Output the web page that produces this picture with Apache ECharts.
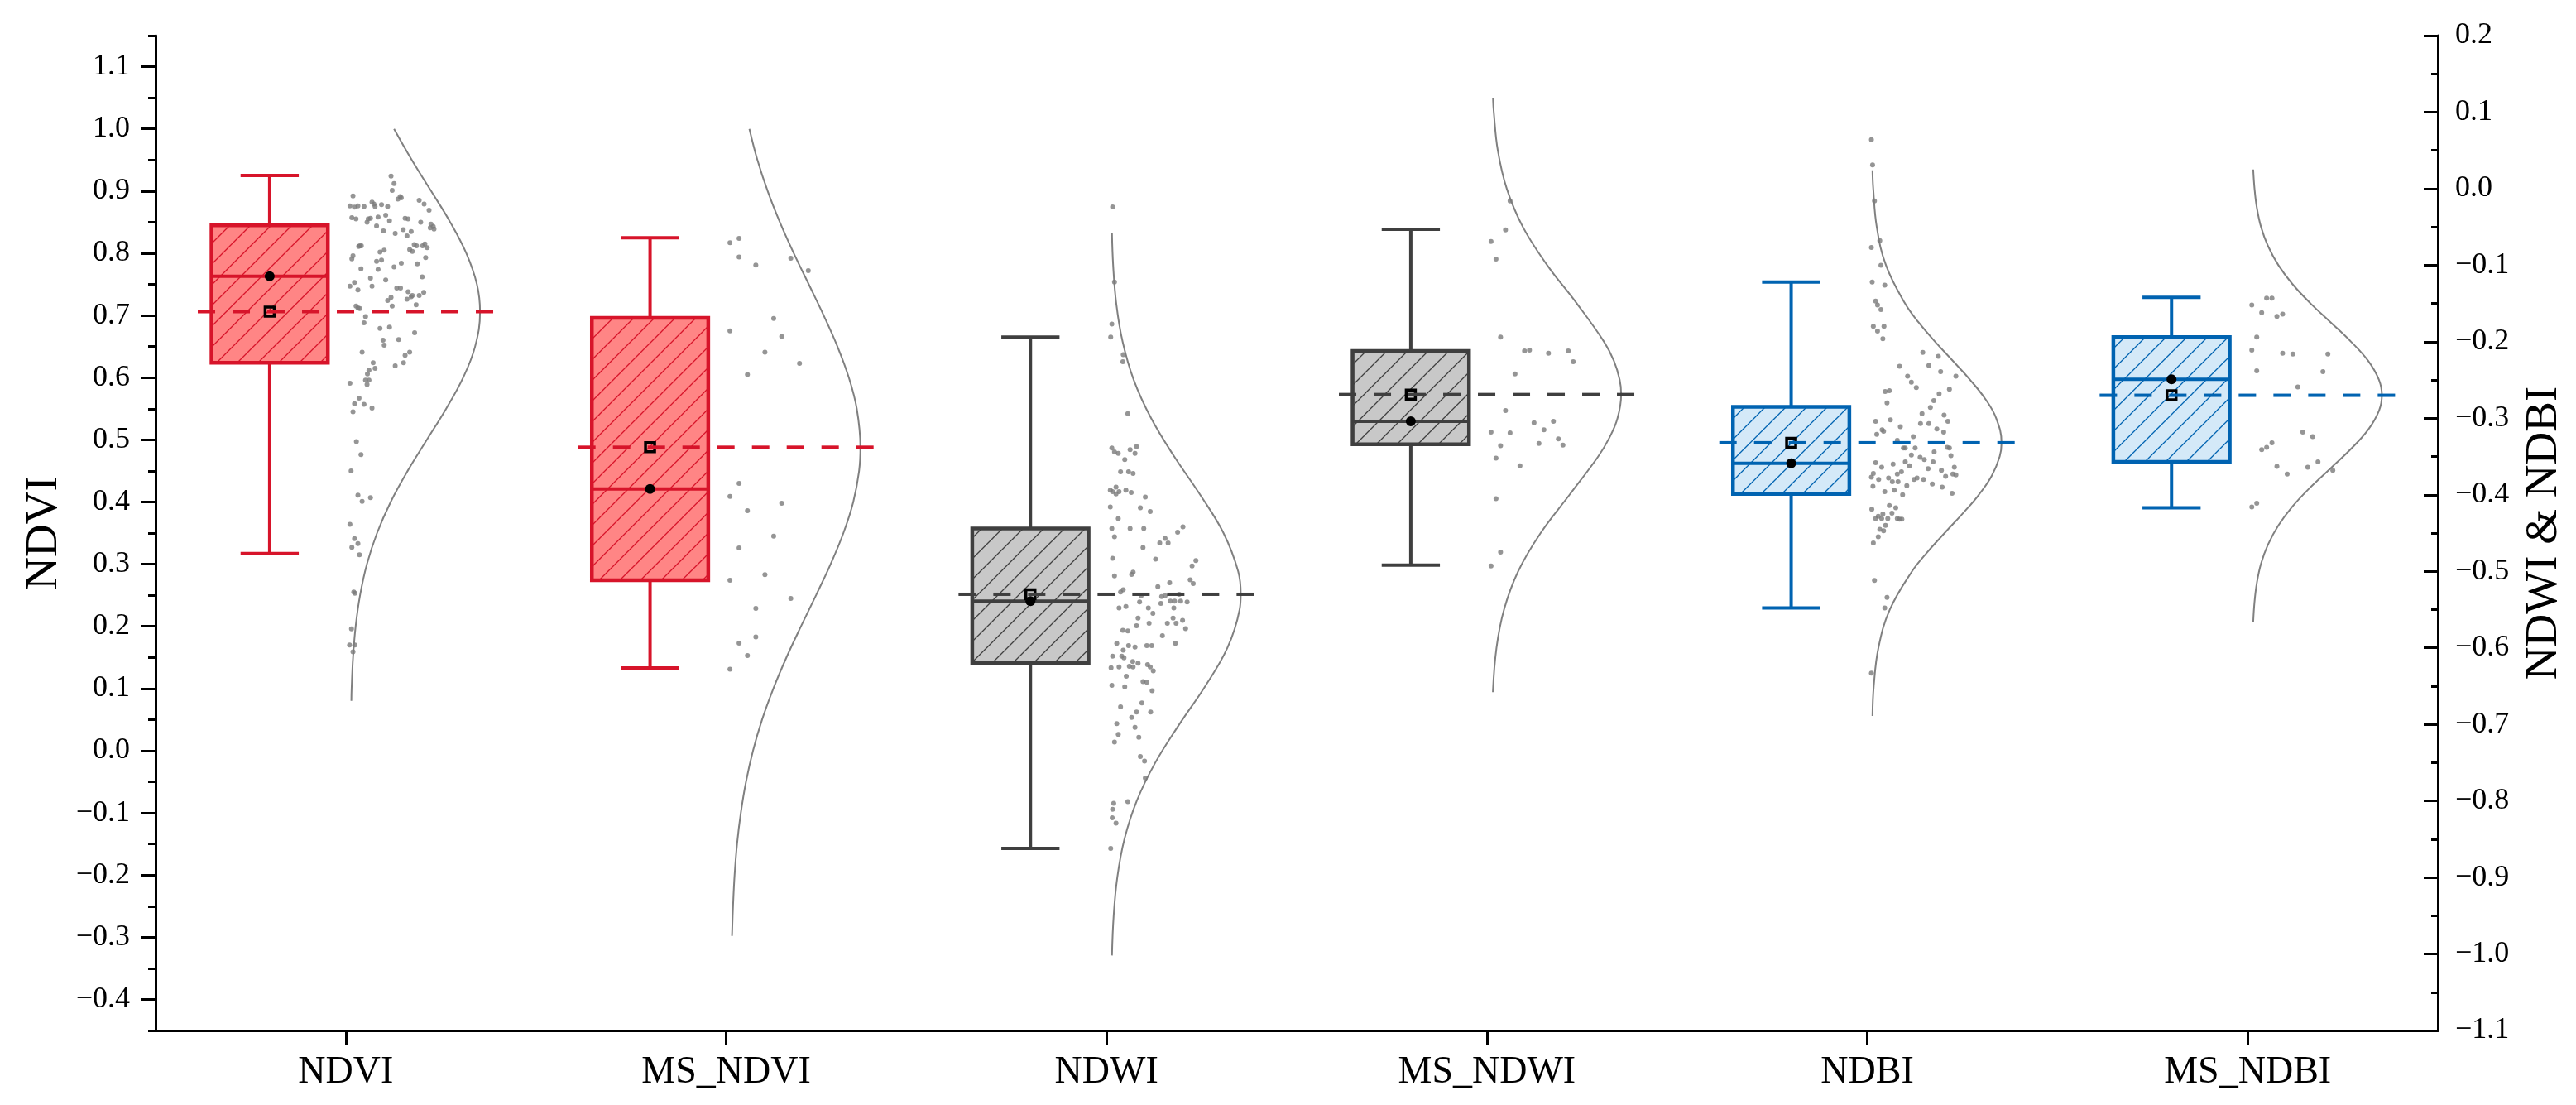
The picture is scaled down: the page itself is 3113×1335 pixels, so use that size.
<!DOCTYPE html>
<html><head><meta charset="utf-8">
<script src="https://cdn.jsdelivr.net/npm/echarts@6/dist/echarts.min.js"></script>
<style>html,body{margin:0;padding:0;background:#fff}#c{width:3113px;height:1335px}</style>
</head><body><div id="c"></div>
<script>
// ---------------- DATA ----------------
const categories = ['NDVI', 'MS_NDVI', 'NDWI', 'MS_NDWI', 'NDBI', 'MS_NDBI'];
const leftTickValues = [-0.4, -0.3, -0.2, -0.1, 0.0, 0.1, 0.2, 0.3, 0.4, 0.5, 0.6, 0.7, 0.8, 0.9, 1.0, 1.1];

// box stats: [lower whisker, Q1, median, Q3, upper whisker]
const ndviBox   = [0.317, 0.624, 0.763, 0.845, 0.925];
const msNdviBox = [0.133, 0.274, 0.421, 0.696, 0.825];
const ndwiBox   = [-0.862, -0.620, -0.539, -0.444, -0.194];
const msNdwiBox = [-0.492, -0.334, -0.304, -0.212, -0.053];
const ndbiBox   = [-0.548, -0.399, -0.359, -0.285, -0.122];
const msNdbiBox = [-0.417, -0.357, -0.249, -0.194, -0.142];
const ndviMean = 0.706, msNdviMean = 0.488, ndwiMean = -0.530, msNdwiMean = -0.269, ndbiMean = -0.332, msNdbiMean = -0.270;

// individual points: [jitter offset within its category, value]
const ndviDots = [[0.619,0.924],[0.627,0.912],[0.622,0.901],[0.519,0.892],[0.643,0.891],[0.637,0.887],[0.646,0.889],[0.511,0.876],[0.523,0.874],[0.532,0.876],[0.548,0.875],[0.569,0.882],[0.574,0.879],[0.577,0.875],[0.594,0.878],[0.610,0.875],[0.693,0.885],[0.706,0.879],[0.719,0.869],[0.516,0.857],[0.527,0.855],[0.556,0.850],[0.559,0.855],[0.565,0.856],[0.585,0.858],[0.605,0.861],[0.615,0.852],[0.656,0.856],[0.664,0.855],[0.697,0.850],[0.724,0.847],[0.730,0.843],[0.732,0.839],[0.722,0.841],[0.599,0.836],[0.581,0.844],[0.630,0.832],[0.651,0.838],[0.661,0.828],[0.672,0.835],[0.537,0.812],[0.541,0.812],[0.534,0.811],[0.519,0.796],[0.516,0.791],[0.590,0.802],[0.601,0.805],[0.668,0.806],[0.675,0.803],[0.680,0.814],[0.686,0.812],[0.702,0.812],[0.708,0.815],[0.714,0.809],[0.710,0.793],[0.581,0.787],[0.594,0.789],[0.540,0.775],[0.585,0.774],[0.627,0.778],[0.646,0.784],[0.688,0.783],[0.701,0.762],[0.511,0.747],[0.523,0.753],[0.532,0.741],[0.565,0.760],[0.569,0.747],[0.605,0.757],[0.634,0.744],[0.644,0.744],[0.664,0.738],[0.672,0.730],[0.675,0.732],[0.693,0.732],[0.705,0.737],[0.610,0.724],[0.619,0.729],[0.622,0.715],[0.661,0.726],[0.685,0.717],[0.527,0.715],[0.532,0.712],[0.537,0.711],[0.552,0.698],[0.548,0.688],[0.590,0.679],[0.615,0.681],[0.681,0.672],[0.598,0.660],[0.601,0.652],[0.639,0.661],[0.543,0.641],[0.668,0.641],[0.656,0.636],[0.652,0.624],[0.630,0.619],[0.572,0.624],[0.577,0.615],[0.561,0.612],[0.557,0.606],[0.552,0.596],[0.561,0.596],[0.556,0.589],[0.511,0.591],[0.535,0.567],[0.523,0.558],[0.548,0.557],[0.569,0.551],[0.519,0.545],[0.528,0.497],[0.540,0.476],[0.514,0.450],[0.532,0.411],[0.543,0.401],[0.565,0.407],[0.511,0.364],[0.523,0.341],[0.532,0.333],[0.516,0.327],[0.536,0.315],[0.521,0.255],[0.524,0.253],[0.515,0.196],[0.510,0.170],[0.524,0.170],[0.519,0.159]];
const msNdviDots = [[0.510,0.817],[0.534,0.824],[0.534,0.794],[0.578,0.781],[0.670,0.792],[0.716,0.772],[0.510,0.675],[0.625,0.695],[0.646,0.666],[0.602,0.641],[0.693,0.623],[0.556,0.605],[0.534,0.430],[0.510,0.409],[0.556,0.386],[0.646,0.398],[0.625,0.345],[0.534,0.326],[0.602,0.283],[0.510,0.274],[0.670,0.245],[0.578,0.229],[0.534,0.173],[0.578,0.183],[0.556,0.153],[0.510,0.131]];
const ndwiDots = [[0.516,-0.024],[0.521,-0.122],[0.514,-0.177],[0.511,-0.194],[0.544,-0.217],[0.543,-0.226],[0.556,-0.294],[0.514,-0.339],[0.521,-0.344],[0.531,-0.346],[0.548,-0.354],[0.562,-0.341],[0.579,-0.337],[0.575,-0.346],[0.537,-0.370],[0.558,-0.370],[0.570,-0.372],[0.510,-0.394],[0.516,-0.396],[0.525,-0.390],[0.533,-0.396],[0.525,-0.399],[0.551,-0.394],[0.565,-0.397],[0.602,-0.403],[0.589,-0.417],[0.615,-0.422],[0.510,-0.416],[0.531,-0.431],[0.514,-0.444],[0.562,-0.444],[0.598,-0.444],[0.521,-0.455],[0.701,-0.442],[0.687,-0.449],[0.640,-0.463],[0.654,-0.457],[0.662,-0.463],[0.596,-0.469],[0.629,-0.484],[0.516,-0.483],[0.735,-0.486],[0.725,-0.493],[0.521,-0.506],[0.570,-0.501],[0.566,-0.504],[0.720,-0.511],[0.728,-0.516],[0.666,-0.515],[0.635,-0.520],[0.544,-0.524],[0.537,-0.527],[0.591,-0.532],[0.691,-0.530],[0.645,-0.533],[0.654,-0.532],[0.668,-0.539],[0.679,-0.539],[0.695,-0.539],[0.712,-0.540],[0.533,-0.548],[0.551,-0.546],[0.587,-0.540],[0.610,-0.548],[0.622,-0.555],[0.643,-0.542],[0.677,-0.548],[0.583,-0.561],[0.579,-0.571],[0.612,-0.568],[0.675,-0.561],[0.700,-0.564],[0.708,-0.575],[0.543,-0.577],[0.556,-0.578],[0.683,-0.568],[0.660,-0.568],[0.527,-0.594],[0.544,-0.603],[0.558,-0.597],[0.575,-0.599],[0.606,-0.597],[0.619,-0.597],[0.647,-0.584],[0.681,-0.594],[0.516,-0.611],[0.540,-0.611],[0.546,-0.613],[0.569,-0.618],[0.583,-0.620],[0.608,-0.622],[0.615,-0.625],[0.623,-0.630],[0.512,-0.626],[0.533,-0.625],[0.552,-0.637],[0.560,-0.624],[0.570,-0.625],[0.514,-0.649],[0.548,-0.651],[0.596,-0.644],[0.606,-0.645],[0.620,-0.656],[0.537,-0.677],[0.579,-0.684],[0.593,-0.672],[0.616,-0.684],[0.566,-0.691],[0.527,-0.699],[0.575,-0.704],[0.531,-0.713],[0.521,-0.723],[0.585,-0.717],[0.589,-0.742],[0.600,-0.748],[0.602,-0.770],[0.556,-0.801],[0.519,-0.803],[0.516,-0.811],[0.515,-0.822],[0.525,-0.829],[0.511,-0.862]];
const msNdwiDots = [[0.561,-0.016],[0.549,-0.054],[0.511,-0.069],[0.524,-0.092],[0.536,-0.194],[0.599,-0.212],[0.612,-0.211],[0.662,-0.215],[0.714,-0.212],[0.727,-0.226],[0.574,-0.242],[0.549,-0.290],[0.624,-0.306],[0.675,-0.304],[0.511,-0.318],[0.561,-0.319],[0.650,-0.315],[0.536,-0.336],[0.637,-0.333],[0.688,-0.327],[0.700,-0.335],[0.524,-0.352],[0.587,-0.362],[0.524,-0.405],[0.536,-0.475],[0.511,-0.493]];
const ndbiDots = [[0.511,0.064],[0.514,0.031],[0.519,-0.016],[0.533,-0.068],[0.511,-0.077],[0.536,-0.100],[0.513,-0.122],[0.546,-0.126],[0.522,-0.147],[0.527,-0.152],[0.536,-0.158],[0.516,-0.180],[0.544,-0.180],[0.527,-0.186],[0.541,-0.196],[0.646,-0.214],[0.687,-0.219],[0.585,-0.232],[0.662,-0.231],[0.693,-0.239],[0.733,-0.245],[0.606,-0.245],[0.616,-0.253],[0.629,-0.260],[0.547,-0.265],[0.558,-0.264],[0.552,-0.280],[0.716,-0.262],[0.689,-0.268],[0.675,-0.277],[0.666,-0.286],[0.644,-0.294],[0.702,-0.296],[0.662,-0.307],[0.640,-0.307],[0.712,-0.304],[0.522,-0.304],[0.561,-0.302],[0.587,-0.311],[0.539,-0.315],[0.543,-0.317],[0.525,-0.321],[0.683,-0.314],[0.701,-0.318],[0.579,-0.329],[0.621,-0.324],[0.600,-0.339],[0.595,-0.339],[0.616,-0.348],[0.626,-0.339],[0.639,-0.351],[0.650,-0.354],[0.676,-0.344],[0.716,-0.339],[0.710,-0.338],[0.720,-0.349],[0.568,-0.360],[0.522,-0.358],[0.538,-0.364],[0.600,-0.357],[0.611,-0.362],[0.673,-0.357],[0.660,-0.366],[0.695,-0.368],[0.729,-0.364],[0.590,-0.370],[0.579,-0.373],[0.556,-0.378],[0.516,-0.372],[0.511,-0.377],[0.530,-0.380],[0.581,-0.383],[0.566,-0.383],[0.604,-0.388],[0.623,-0.380],[0.631,-0.378],[0.648,-0.380],[0.671,-0.386],[0.697,-0.390],[0.706,-0.376],[0.725,-0.373],[0.733,-0.374],[0.723,-0.398],[0.515,-0.389],[0.546,-0.396],[0.571,-0.394],[0.593,-0.400],[0.512,-0.419],[0.558,-0.414],[0.529,-0.428],[0.541,-0.425],[0.538,-0.431],[0.522,-0.431],[0.565,-0.424],[0.575,-0.417],[0.579,-0.431],[0.585,-0.432],[0.591,-0.432],[0.554,-0.431],[0.548,-0.440],[0.533,-0.445],[0.543,-0.447],[0.529,-0.455],[0.516,-0.463],[0.519,-0.512],[0.552,-0.534],[0.546,-0.548],[0.511,-0.633]];
const msNdbiDots = [[0.511,-0.152],[0.550,-0.143],[0.564,-0.143],[0.537,-0.162],[0.577,-0.167],[0.592,-0.164],[0.524,-0.194],[0.511,-0.211],[0.592,-0.215],[0.619,-0.216],[0.711,-0.216],[0.524,-0.238],[0.698,-0.239],[0.632,-0.259],[0.645,-0.318],[0.671,-0.324],[0.564,-0.332],[0.550,-0.338],[0.537,-0.341],[0.577,-0.363],[0.604,-0.373],[0.658,-0.364],[0.685,-0.357],[0.724,-0.368],[0.524,-0.411],[0.511,-0.416]];

// fitted normal curves, read as [value, relative density 0..1]
const ndviCurve = [[1.0,0.337],[0.95,0.474],[0.9,0.623],[0.85,0.770],[0.8,0.894],[0.75,0.976],[0.706,1],[0.65,0.962],[0.6,0.870],[0.55,0.739],[0.5,0.590],[0.45,0.442],[0.4,0.311],[0.35,0.206],[0.3,0.128],[0.25,0.075],[0.2,0.041],[0.15,0.021],[0.1,0.010],[0.08,0.008]];
const msNdviCurve = [[1.0,0.144],[0.95,0.206],[0.9,0.285],[0.85,0.379],[0.8,0.486],[0.75,0.602],[0.7,0.717],[0.65,0.823],[0.6,0.911],[0.55,0.972],[0.488,1],[0.45,0.990],[0.4,0.945],[0.35,0.869],[0.3,0.770],[0.25,0.658],[0.2,0.542],[0.15,0.430],[0.1,0.329],[0.05,0.242],[0.0,0.172],[-0.05,0.118],[-0.1,0.078],[-0.15,0.049],[-0.2,0.030],[-0.25,0.018],[-0.298,0.010]];
const ndwiCurve = [[-0.058,0.007],[-0.1,0.016],[-0.15,0.040],[-0.2,0.089],[-0.25,0.175],[-0.3,0.309],[-0.35,0.487],[-0.4,0.687],[-0.45,0.867],[-0.5,0.980],[-0.53,1],[-0.55,0.991],[-0.6,0.897],[-0.65,0.726],[-0.7,0.526],[-0.75,0.341],[-0.8,0.198],[-0.85,0.103],[-0.9,0.048],[-0.95,0.020],[-1.002,0.007]];
const msNdwiCurve = [[0.118,0.012],[0.1,0.018],[0.05,0.049],[0.0,0.118],[-0.05,0.242],[-0.1,0.430],[-0.15,0.658],[-0.2,0.868],[-0.225,0.944],[-0.25,0.989],[-0.269,1],[-0.3,0.972],[-0.325,0.911],[-0.35,0.823],[-0.4,0.602],[-0.45,0.379],[-0.5,0.206],[-0.55,0.097],[-0.6,0.039],[-0.658,0.011]];
const ndbiCurve = [[0.024,0.005],[0.0,0.011],[-0.05,0.038],[-0.1,0.109],[-0.15,0.256],[-0.175,0.362],[-0.2,0.488],[-0.225,0.625],[-0.25,0.759],[-0.275,0.876],[-0.3,0.959],[-0.332,1],[-0.35,0.986],[-0.375,0.925],[-0.4,0.825],[-0.425,0.698],[-0.45,0.561],[-0.475,0.428],[-0.5,0.310],[-0.55,0.139],[-0.6,0.051],[-0.65,0.015],[-0.689,0.005]];
const msNdbiCurve = [[0.025,0.008],[0.0,0.018],[-0.025,0.036],[-0.05,0.068],[-0.075,0.122],[-0.1,0.202],[-0.125,0.312],[-0.15,0.450],[-0.175,0.607],[-0.2,0.762],[-0.225,0.894],[-0.25,0.978],[-0.27,1],[-0.29,0.978],[-0.315,0.894],[-0.34,0.762],[-0.365,0.607],[-0.39,0.450],[-0.415,0.312],[-0.44,0.202],[-0.465,0.122],[-0.49,0.068],[-0.515,0.036],[-0.54,0.018],[-0.566,0.008]];

// ---------------- LAYOUT / STYLE ----------------
const FONT = "'Liberation Serif','Times New Roman',serif";
const BOX_CENTER = 0.30, BOX_WIDTH = 0.306, CAP_RATIO = 0.5;
const MEAN_START = 0.111, MEAN_END = 0.893;
const CURVE_BASE = 0.512, CURVE_AMP = 0.341;

function makeHatch(bg, line) {
  const s = 25, c = document.createElement('canvas');
  c.width = s; c.height = s;
  const g = c.getContext('2d');
  g.fillStyle = bg; g.fillRect(0, 0, s, s);
  g.strokeStyle = line; g.lineWidth = 1.3;
  g.beginPath();
  g.moveTo(-3, s + 3); g.lineTo(s + 3, -3);
  g.moveTo(-3, 3); g.lineTo(3, -3);
  g.moveTo(s - 3, s + 3); g.lineTo(s + 3, s - 3);
  g.stroke();
  return c;
}
const PALETTES = [
  { stroke: '#D7142A', pattern: { image: makeHatch('#FF8585', '#D7142A'), repeat: 'repeat' } },
  { stroke: '#3F3F3F', pattern: { image: makeHatch('#C8C8C8', '#3F3F3F'), repeat: 'repeat' } },
  { stroke: '#0063B1', pattern: { image: makeHatch('#D4E9F8', '#0063B1'), repeat: 'repeat' } }
];

function renderBox(params, api) {
  const i = api.value(0);
  const low = api.value(1), q1 = api.value(2), med = api.value(3), q3 = api.value(4), high = api.value(5);
  const mean = api.value(6);
  const pal = PALETTES[api.value(7)];
  const cx = api.coord([i + BOX_CENTER, med])[0];
  const y = v => api.coord([i + BOX_CENTER, v])[1];
  const bw = api.size([BOX_WIDTH, 0])[0];
  const cw = bw * CAP_RATIO;
  const mx0 = api.coord([i + MEAN_START, mean])[0];
  const mx1 = api.coord([i + MEAN_END, mean])[0];
  const st = { stroke: pal.stroke, lineWidth: 4, fill: null };
  return {
    type: 'group',
    children: [
      { type: 'line', shape: { x1: cx, y1: y(high), x2: cx, y2: y(q3) }, style: st },
      { type: 'line', shape: { x1: cx, y1: y(q1), x2: cx, y2: y(low) }, style: st },
      { type: 'line', shape: { x1: cx - cw / 2, y1: y(high), x2: cx + cw / 2, y2: y(high) }, style: st },
      { type: 'line', shape: { x1: cx - cw / 2, y1: y(low), x2: cx + cw / 2, y2: y(low) }, style: st },
      { type: 'rect', shape: { x: cx - bw / 2, y: y(q3), width: bw, height: y(q1) - y(q3) },
        style: { fill: pal.pattern, stroke: pal.stroke, lineWidth: 4.5 } },
      { type: 'line', shape: { x1: cx - bw / 2, y1: y(med), x2: cx + bw / 2, y2: y(med) }, style: st },
      { type: 'circle', shape: { cx: cx, cy: y(med), r: 6 }, style: { fill: '#000' } },
      { type: 'rect', shape: { x: cx - 5.5, y: y(mean) - 5.5, width: 11, height: 11 }, style: { fill: null, stroke: '#000', lineWidth: 3.5 } },
      { type: 'line', shape: { x1: mx0, y1: y(mean), x2: mx1, y2: y(mean) },
        style: { stroke: pal.stroke, lineWidth: 4, lineDash: [21, 21], fill: null } }
    ]
  };
}

const fmt = v => {
  const s = Math.abs(v) < 1e-9 ? '0.0' : Number(v).toFixed(1);
  return s.replace('-', '\u2212');
};

const groups = [
  { idx: 0, box: ndviBox,   mean: ndviMean,   dots: ndviDots,   curve: ndviCurve,   axis: 0, pal: 0 },
  { idx: 1, box: msNdviBox, mean: msNdviMean, dots: msNdviDots, curve: msNdviCurve, axis: 0, pal: 0 },
  { idx: 2, box: ndwiBox,   mean: ndwiMean,   dots: ndwiDots,   curve: ndwiCurve,   axis: 2, pal: 1 },
  { idx: 3, box: msNdwiBox, mean: msNdwiMean, dots: msNdwiDots, curve: msNdwiCurve, axis: 2, pal: 1 },
  { idx: 4, box: ndbiBox,   mean: ndbiMean,   dots: ndbiDots,   curve: ndbiCurve,   axis: 2, pal: 2 },
  { idx: 5, box: msNdbiBox, mean: msNdbiMean, dots: msNdbiDots, curve: msNdbiCurve, axis: 2, pal: 2 }
];

const series = [];
groups.forEach(g => {
  series.push({
    type: 'line', xAxisIndex: 1, yAxisIndex: g.axis, silent: true, z: 2,
    symbol: 'none', smooth: 0.4, animation: false,
    lineStyle: { color: '#808080', width: 2 },
    data: g.curve.map(([v, d]) => [g.idx + CURVE_BASE + d * CURVE_AMP, v])
  });
  series.push({
    type: 'scatter', xAxisIndex: 1, yAxisIndex: g.axis, silent: true, z: 3,
    symbol: 'circle', symbolSize: 6, animation: false,
    itemStyle: { color: '#7A7A7A' },
    data: g.dots.map(([j, v]) => [g.idx + j, v])
  });
  series.push({
    type: 'custom', xAxisIndex: 1, yAxisIndex: g.axis, silent: true, z: 4, animation: false,
    renderItem: renderBox,
    encode: { x: 0, y: [1, 2, 3, 4, 5, 6] },
    data: [[g.idx].concat(g.box, [g.mean, g.pal])]
  });
});

const axisLineStyle = { color: '#000', width: 3 };
const option = {
  animation: false,
  backgroundColor: '#fff',
  grid: { left: 188, right: 167, top: 43, bottom: 90, containLabel: false, outerBoundsMode: 'none' },
  xAxis: [
    { type: 'category', data: categories, boundaryGap: true, position: 'bottom',
      axisLine: { show: true, onZero: false, lineStyle: axisLineStyle },
      axisTick: { show: true, alignWithLabel: true, length: 17, lineStyle: axisLineStyle },
      axisLabel: { fontSize: 46, fontFamily: FONT, color: '#000', margin: 28 },
      splitLine: { show: false } },
    { type: 'value', min: 0, max: 6, show: false, splitLine: { show: false } }
  ],
  yAxis: [
    { type: 'value', position: 'left', min: -0.45, max: 1.15, interval: 0.05,
      axisLine: { show: true, onZero: false, lineStyle: axisLineStyle },
      axisTick: { show: true, length: 9, lineStyle: axisLineStyle },
      axisLabel: { show: false }, splitLine: { show: false } },
    { type: 'value', position: 'left', min: -0.45, max: 1.15,
      axisLine: { show: false, onZero: false },
      axisTick: { show: true, length: 18, customValues: leftTickValues, lineStyle: axisLineStyle },
      axisLabel: { show: true, customValues: leftTickValues, formatter: fmt, margin: 31,
                   fontSize: 36, fontFamily: FONT, color: '#000' },
      splitLine: { show: false },
      name: 'NDVI', nameLocation: 'middle', nameGap: 107, nameRotate: 90,
      nameTextStyle: { fontSize: 55, fontFamily: FONT, color: '#000' } },
    { type: 'value', position: 'right', min: -1.1, max: 0.2, interval: 0.1,
      axisLine: { show: true, onZero: false, lineStyle: axisLineStyle },
      axisTick: { show: true, inside: true, length: 17, lineStyle: axisLineStyle },
      minorTick: { show: true, splitNumber: 2, length: 8, lineStyle: axisLineStyle },
      axisLabel: { formatter: fmt, margin: 21, fontSize: 36, fontFamily: FONT, color: '#000' },
      splitLine: { show: false }, minorSplitLine: { show: false },
      name: 'NDWI & NDBI', nameLocation: 'middle', nameGap: 101, nameRotate: 90,
      nameTextStyle: { fontSize: 55, fontFamily: FONT, color: '#000' } }
  ],
  series: series
};

const chart = echarts.init(document.getElementById('c'), null, { renderer: 'canvas', width: 3113, height: 1335 });
chart.setOption(option);
</script>
</body></html>
